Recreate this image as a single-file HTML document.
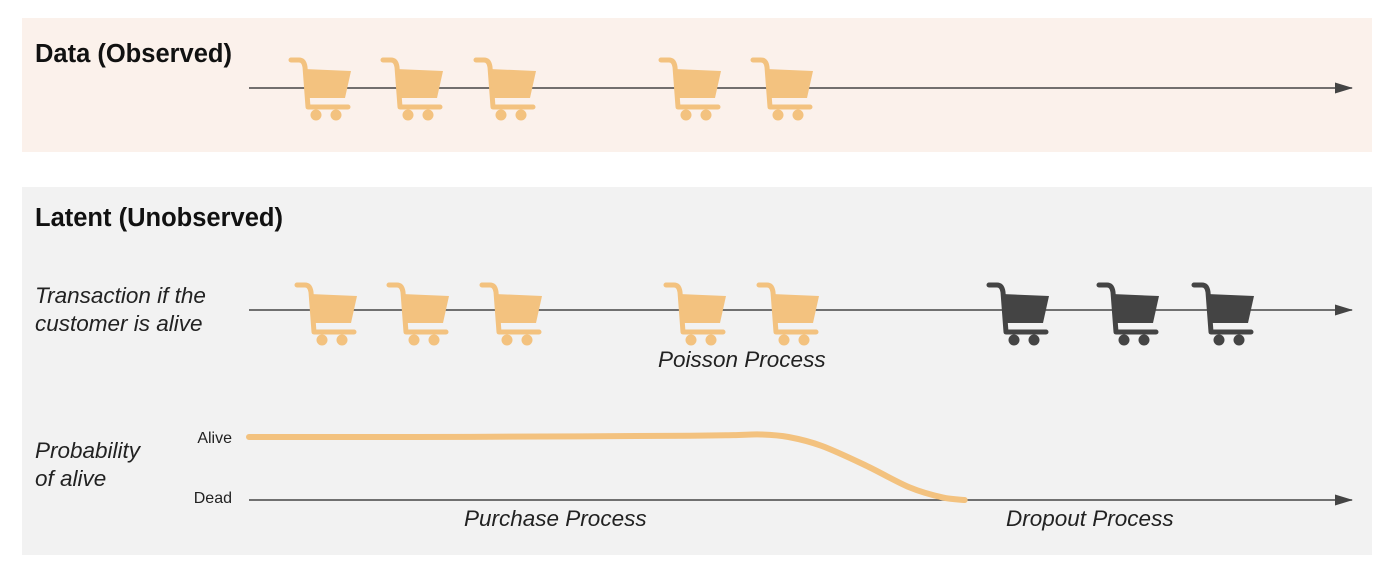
<!DOCTYPE html>
<html><head><meta charset="utf-8"><style>
body{margin:0;width:1400px;height:582px;background:#fff;font-family:"Liberation Sans",sans-serif;overflow:hidden}
svg{display:block}
</style></head><body>
<svg width="1400" height="582">
<defs>
<g id="cart">
<path d="M1,3 H9 Q14,3 15,10 L18,50 H58" fill="none" stroke-width="5" stroke-linecap="round" stroke-linejoin="round" stroke="currentColor"/>
<polygon points="14,12 61,14 55,41 18,41" fill="currentColor"/>
<circle cx="26" cy="58" r="5.5" fill="currentColor"/>
<circle cx="46" cy="58" r="5.5" fill="currentColor"/>
</g>
<marker id="arr" markerWidth="18" markerHeight="12" refX="17" refY="6" orient="auto" markerUnits="userSpaceOnUse"><path d="M0,0.5 L18,6 L0,11.5z" fill="#444"/></marker>
</defs>
<rect x="22" y="18" width="1350" height="134" fill="#fbf1eb"/>
<rect x="22" y="187" width="1350" height="368" fill="#f2f2f2"/>
<text x="35" y="62" font-size="25.5" font-weight="bold" fill="#111">Data (Observed)</text>
<text x="35" y="226" font-size="25.5" font-weight="bold" fill="#111">Latent (Unobserved)</text>
<g font-style="italic" font-size="22.5" fill="#222">
<text x="35" y="303">Transaction if the</text>
<text x="35" y="331">customer is alive</text>
<text x="35" y="458">Probability</text>
<text x="35" y="486">of alive</text>
<text x="658" y="367">Poisson Process</text>
<text x="464" y="526">Purchase Process</text>
<text x="1006" y="526">Dropout Process</text>
</g>
<text x="232" y="443" font-size="16" text-anchor="end" fill="#222">Alive</text>
<text x="232" y="503" font-size="16" text-anchor="end" fill="#222">Dead</text>
<line x1="249" y1="88" x2="1352" y2="88" stroke="#444" stroke-width="1.6" marker-end="url(#arr)"/>
<line x1="249" y1="310" x2="1352" y2="310" stroke="#444" stroke-width="1.6" marker-end="url(#arr)"/>
<line x1="249" y1="500" x2="1352" y2="500" stroke="#444" stroke-width="1.6" marker-end="url(#arr)"/>
<g id="carts"></g>
<path id="probCurve" fill="none" stroke="#f3c27f" stroke-width="6" stroke-linecap="round"/>
</svg>
<script>
const observedCarts=[290,382,475,660,752];
const aliveCarts=[296,388,481,665,758];
const deadCarts=[988,1098,1193];
const probT=[0,15,30,40,44,46.5,49,52,56,60,63,65];
const probV=[1,1,1.01,1.02,1.03,1.04,1.0,0.86,0.55,0.2,0.04,0];
const xs=t=>249+t*(1101/100);
const ys=v=>500-v*63;
const g=document.getElementById('carts');
function addCart(x,y,color,name){
  const u=document.createElementNS('http://www.w3.org/2000/svg','use');
  u.setAttribute('href','#cart');
  u.setAttribute('x',x);u.setAttribute('y',y);
  u.setAttribute('color',color);
  
  
  g.appendChild(u);
}
observedCarts.forEach(x=>addCart(x,57,'#f3c27f','observed-cart'));
aliveCarts.forEach(x=>addCart(x,282,'#f3c27f','alive-cart'));
deadCarts.forEach(x=>addCart(x,282,'#444444','unobserved-cart'));
const pts=probT.map((t,i)=>[xs(t),ys(probV[i])]);
let d='M'+pts[0][0]+','+pts[0][1];
for(let i=0;i<pts.length-1;i++){
  const p0=pts[Math.max(0,i-1)],p1=pts[i],p2=pts[i+1],p3=pts[Math.min(pts.length-1,i+2)];
  const c1=[p1[0]+(p2[0]-p0[0])/6,p1[1]+(p2[1]-p0[1])/6];
  const c2=[p2[0]-(p3[0]-p1[0])/6,p2[1]-(p3[1]-p1[1])/6];
  d+=' C'+c1[0]+','+c1[1]+' '+c2[0]+','+c2[1]+' '+p2[0]+','+p2[1];
}
document.getElementById('probCurve').setAttribute('d',d);
</script>
</body></html>
